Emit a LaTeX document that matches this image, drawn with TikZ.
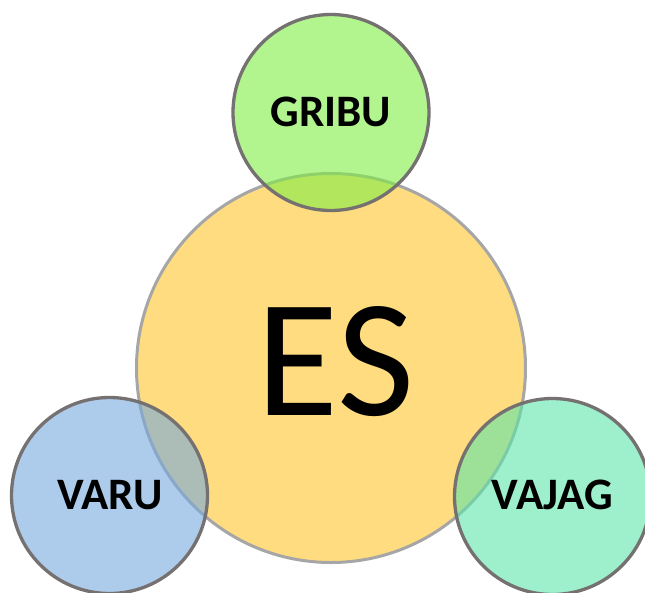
\documentclass[tikz,border=0pt]{standalone}
\usepackage{fontspec}
\setmainfont{Carlito}
\definecolor{bigfill}{HTML}{FFDC80}
\definecolor{bigline}{HTML}{A6A6A6}
\definecolor{smallline}{HTML}{767171}
\definecolor{gribufill}{HTML}{7FEE44}
\definecolor{varufill}{HTML}{76A8DC}
\definecolor{vajagfill}{HTML}{5DE4A8}
\tikzset{
  bigc/.style={circle, draw=bigline, line width=3pt, fill=bigfill, minimum size=389pt, inner sep=0pt},
  smallc/.style={circle, draw=smallline, line width=3.3pt, fill opacity=0.6, draw opacity=1, text opacity=1, minimum size=196pt, inner sep=0pt},
  lbl/.style={font=\fontsize{45}{50}\selectfont\bfseries, text=black, inner sep=0pt},
}
\begin{document}
\begin{tikzpicture}[x=1pt,y=-1pt]
\useasboundingbox (0,0) rectangle (645,592);
\node[bigc] (es) at (331,368) {};
\node[smallc, fill=gribufill] (gribu) at (331,112.5) {};
\node[smallc, fill=varufill] (varu) at (109.5,495.5) {};
\node[smallc, fill=vajagfill] (vajag) at (552.5,496.5) {};
\node[font=\fontsize{168}{180}\selectfont, inner sep=0pt] (estext) at (335.5,362) {ES};
\node[lbl] (gributext) at (331,112) {GRIBU};
\node[lbl] (varutext) at (110,495) {VARU};
\node[lbl] (vajagtext) at (552.5,495) {VAJAG};
\end{tikzpicture}
\end{document}
